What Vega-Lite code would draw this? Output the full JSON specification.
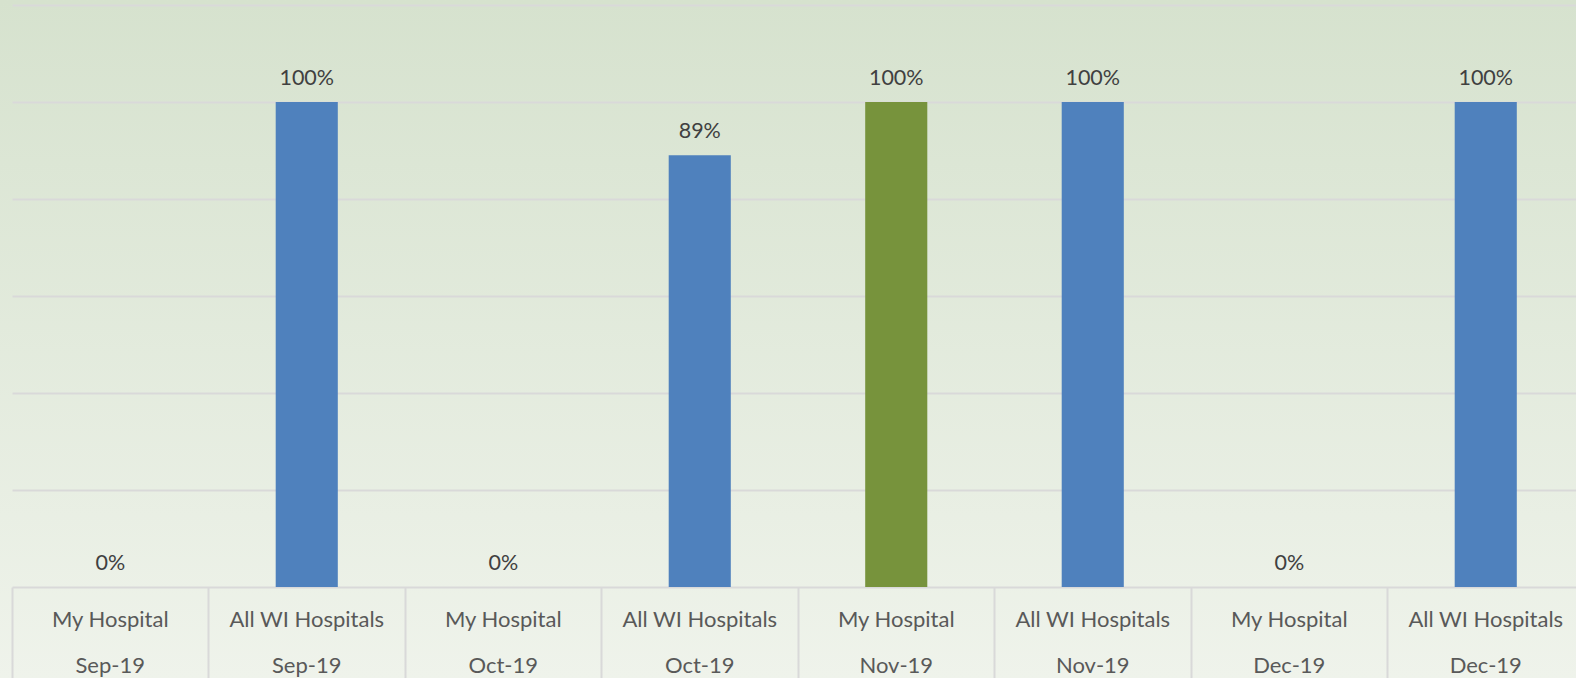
{
  "$schema": "https://vega.github.io/schema/vega-lite/v6.json",
  "width": 1576,
  "height": 678,
  "autosize": {"type": "none"},
  "padding": 0,
  "background": "#e2e9dc",
  "config": {
    "view": {
      "stroke": null,
      "fill": {
        "gradient": "linear",
        "x1": 0, "y1": 0, "x2": 0, "y2": 1,
        "stops": [
          {"offset": 0, "color": "#d6e2ce"},
          {"offset": 1, "color": "#eff3eb"}
        ]
      }
    },
    "font": "Lato"
  },
  "data": {
    "values": [
      {"label": "My Hospital|Sep-19", "series": "My Hospital", "value": 0},
      {"label": "All WI Hospitals|Sep-19", "series": "All WI Hospitals", "value": 1.0},
      {"label": "My Hospital|Oct-19", "series": "My Hospital", "value": 0},
      {"label": "All WI Hospitals|Oct-19", "series": "All WI Hospitals", "value": 0.89},
      {"label": "My Hospital|Nov-19", "series": "My Hospital", "value": 1.0},
      {"label": "All WI Hospitals|Nov-19", "series": "All WI Hospitals", "value": 1.0},
      {"label": "My Hospital|Dec-19", "series": "My Hospital", "value": 0},
      {"label": "All WI Hospitals|Dec-19", "series": "All WI Hospitals", "value": 1.0}
    ]
  },
  "encoding": {
    "x": {
      "field": "label",
      "type": "nominal",
      "sort": null,
      "scale": {"paddingInner": 0, "paddingOuter": 0, "range": [12, 1584]},
      "axis": {
        "title": null,
        "orient": "bottom",
        "offset": -91,
        "labelAngle": 0,
        "labelExpr": "split(datum.label, '|')",
        "labelFont": "Lato",
        "labelFontSize": 22,
        "labelColor": "#595959",
        "labelLineHeight": 46,
        "labelBaseline": "alphabetic",
        "labelPadding": -52,
        "labelLimit": 300,
        "bandPosition": 0,
        "tickSize": 91,
        "tickWidth": 2,
        "tickColor": "#d9d9d9",
        "domainColor": "#d9d9d9",
        "domainWidth": 2,
        "grid": false
      }
    },
    "y": {
      "field": "value",
      "type": "quantitative",
      "scale": {"domain": [0, 1.2], "range": [587, 5], "nice": false, "zero": true},
      "axis": {
        "title": null,
        "labels": false,
        "ticks": false,
        "domain": false,
        "grid": true,
        "gridColor": "#d9d9d9",
        "gridWidth": 2,
        "values": [0.2, 0.4, 0.6, 0.8, 1.0, 1.2]
      }
    }
  },
  "layer": [
    {
      "mark": {"type": "bar", "width": {"band": 0.316}},
      "encoding": {
        "color": {
          "field": "series",
          "type": "nominal",
          "scale": {"domain": ["My Hospital", "All WI Hospitals"], "range": ["#77933c", "#4f81bd"]},
          "legend": null
        }
      }
    },
    {
      "mark": {"type": "text", "baseline": "alphabetic", "dy": -17, "font": "Lato", "fontSize": 21.5, "color": "#404040"},
      "encoding": {
        "text": {"field": "value", "type": "quantitative", "format": ".0%"}
      }
    }
  ]
}
